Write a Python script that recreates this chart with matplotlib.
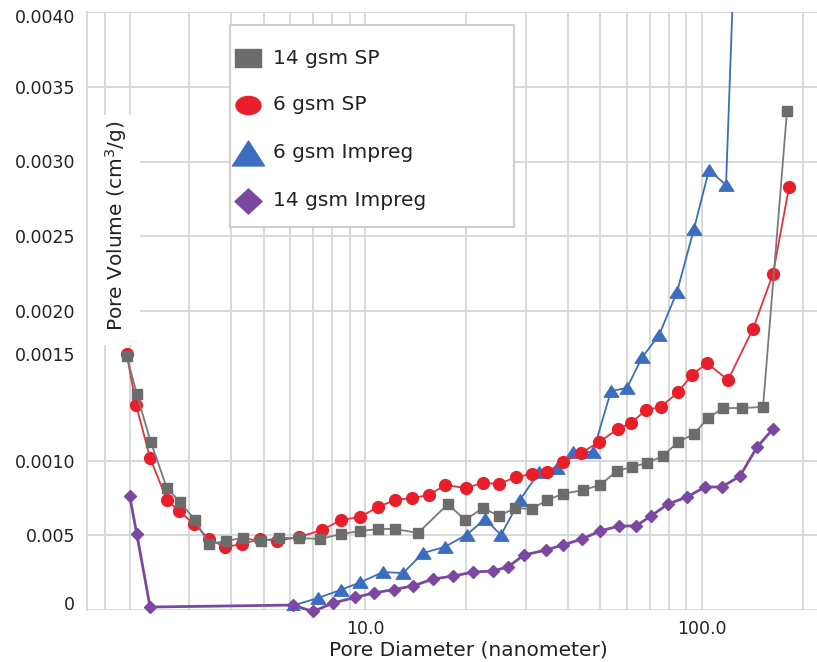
import numpy as np
import matplotlib
matplotlib.use("Agg")
import matplotlib.pyplot as plt
from matplotlib.path import Path
from matplotlib.patches import Rectangle

# pore diameter (nm) and pore volume (cm3/g)
gray_d = [1.96, 2.10, 2.31, 2.58, 2.82, 3.13, 3.44, 3.87, 4.34, 4.91, 5.55, 6.37, 7.35,
          8.49, 9.66, 10.93, 12.28, 14.37, 17.64, 19.82, 22.41, 25.0, 27.89, 31.33, 34.71,
          38.74, 44.41, 49.89, 56.03, 62.09, 68.8, 76.76, 85.04, 94.86, 104.4, 115.7,
          131.7, 152.1, 179.2]
gray_v = [0.00170, 0.001445, 0.001124, 0.000816, 0.000722, 0.000602, 0.000441, 0.000462,
          0.000482, 0.000462, 0.000482, 0.000482, 0.000475, 0.000508, 0.000528, 0.000542,
          0.000542, 0.000515, 0.000709, 0.000602, 0.000682, 0.000629, 0.000682, 0.000676,
          0.000736, 0.000776, 0.000803, 0.000836, 0.000930, 0.000957, 0.000983, 0.001030,
          0.001124, 0.001177, 0.001284, 0.001351, 0.001351, 0.001358, 0.003338]

red_d = [1.96, 2.09, 2.30, 2.58, 2.80, 3.11, 3.44, 3.84, 4.31, 4.88, 5.48, 6.37, 7.45,
         8.49, 9.66, 10.93, 12.28, 13.79, 15.49, 17.29, 19.95, 22.41, 25.0, 28.08, 31.33,
         34.71, 38.74, 43.81, 49.55, 56.42, 61.66, 68.33, 75.72, 85.04, 93.58, 103.7,
         119.7, 142.0, 162.8, 181.7]
red_v = [0.001712, 0.001371, 0.001017, 0.000736, 0.000662, 0.000575, 0.000475, 0.000421,
         0.000441, 0.000475, 0.000462, 0.000488, 0.000535, 0.000602, 0.000622, 0.000689,
         0.000736, 0.000749, 0.000769, 0.000836, 0.000816, 0.000850, 0.000843, 0.000890,
         0.000910, 0.000923, 0.000990, 0.001050, 0.001124, 0.001211, 0.001251, 0.001338,
         0.001358, 0.001458, 0.001572, 0.001652, 0.001538, 0.001880, 0.002248, 0.002829]

blue_d = [6.11, 7.25, 8.46, 9.66, 11.31, 12.97, 14.87, 17.23, 20.09, 22.72, 25.34, 28.86,
          32.87, 37.18, 41.48, 47.56, 53.78, 59.98, 66.48, 74.69, 84.45, 94.86, 105.1,
          118.1, 131.7]
blue_v = [0.00003, 0.00008, 0.000134, 0.000184, 0.000254, 0.000247, 0.000381, 0.000421,
          0.000505, 0.000609, 0.000502, 0.000736, 0.000923, 0.000950, 0.001057, 0.001057,
          0.001465, 0.001485, 0.001689, 0.001839, 0.002127, 0.002549, 0.002943, 0.002843,
          0.0058]

purple_d = [2.0, 2.10, 2.30, 6.11, 7.01, 8.04, 9.34, 10.63, 12.19, 13.89, 15.92, 18.25,
            21.0, 24.01, 26.58, 29.66, 34.48, 38.74, 44.11, 49.89, 56.81, 63.81, 70.71,
            79.41, 90.44, 102.3, 114.9, 129.9, 146.0, 162.8]
purple_v = [0.000763, 0.000508, 0.00002, 0.000033, -0.00001, 0.000047, 0.000084, 0.000114,
            0.000137, 0.000161, 0.000207, 0.000227, 0.000254, 0.000261, 0.000288, 0.000368,
            0.000401, 0.000435, 0.000475, 0.000528, 0.000562, 0.000562, 0.000629, 0.000709,
            0.000756, 0.000823, 0.000823, 0.000896, 0.001090, 0.001211]

labels = ["14 gsm SP", "6 gsm SP", "6 gsm Impreg", "14 gsm Impreg"]

ytick_pos = [0.00005, 0.0005, 0.001, 0.00171, 0.002, 0.0025, 0.003, 0.0035, 0.00397]
ytick_labels = ["0", "0.005", "0.0010", "0.0015", "0.0020", "0.0025", "0.0030", "0.0035", "0.0040"]
ygrid = [0, 0.0005, 0.001, 0.002, 0.0025, 0.003, 0.0035, 0.004]
xgrid = [1.69, 2, 3, 4, 5, 6, 7, 8, 9, 10, 20, 30, 40, 50, 60, 70, 80, 90, 100, 200]

W, H = 817, 662
GRID = "#d6d6d6"


def custom_marker(verts):
    verts = list(verts) + [verts[0]]
    codes = [Path.MOVETO] + [Path.LINETO] * (len(verts) - 2) + [Path.CLOSEPOLY]
    return Path(verts, codes)


tri = custom_marker([(0, 0.78), (-1, -0.78), (1, -0.78)])
ell = Path.unit_circle().transformed(matplotlib.transforms.Affine2D().scale(1.38, 1.0))
rect = custom_marker([(-1.38, -1), (1.38, -1), (1.38, 1), (-1.38, 1)])
dia = custom_marker([(0, 1), (1.08, 0), (0, -1), (-1.08, 0)])

fig = plt.figure(figsize=(W / 100, H / 100), dpi=100)
ax = fig.add_axes([87 / W, 1 - 610 / H, 730 / W, 598 / H])
ax.set_xscale("log")
ax.set_xlim(1.494, 220)
ax.set_ylim(0, 0.004)

for s in ["top", "right", "bottom"]:
    ax.spines[s].set_visible(False)
ax.spines["left"].set_color(GRID)
ax.spines["left"].set_linewidth(1.3)

for g in ygrid:
    ax.axhline(g, color=GRID, lw=1.3, zorder=0.5)
for g in xgrid:
    ax.axvline(g, color=GRID, lw=1.3, zorder=0.5)

ax.set_xticks([10, 100])
ax.set_xticklabels(["10.0", "100.0"])
ax.xaxis.set_minor_locator(matplotlib.ticker.NullLocator())
ax.set_yticks(ytick_pos)
ax.set_yticklabels(ytick_labels)
ax.tick_params(axis="x", length=0, pad=7, labelsize=12.5, colors="#222222")
ax.tick_params(axis="y", length=0, pad=8.5, labelsize=12.5, colors="#222222")

# white box behind the y label
ax.add_patch(Rectangle(((87 - 87) / 730, (610 - 345) / 598), 53 / 730, 230 / 598,
                       transform=ax.transAxes, facecolor="white", edgecolor="none",
                       zorder=1, clip_on=False))

ax.plot(blue_d, blue_v, color="#3c6dbf", lw=1.3, marker=tri, ms=10.5,
        mec="#3c6dbf", mfc="#3c6dbf", zorder=3)
ax.plot(red_d, red_v, color="#e3323d", lw=1.3, marker="o", ms=8.5,
        mec="#e81f2b", mfc="#e81f2b", zorder=4)
ax.plot(gray_d, gray_v, color="#7a7a7a", lw=1.3, marker="s", ms=7.3,
        mec="#6c6c6c", mfc="#6c6c6c", zorder=5)
ax.plot(purple_d, purple_v, color="#7a48a0", lw=2.0, marker="D", ms=5.8,
        mec="#7a48a0", mfc="#7a48a0", zorder=6, clip_on=False)


def axfrac(px, py):
    return (px - 87) / 730, (610 - py) / 598


# legend box
x0, y0 = axfrac(230, 227)
ax.add_patch(Rectangle((x0, y0), 284 / 730, 202 / 598, transform=ax.transAxes,
                       facecolor="white", edgecolor="#cfcfcf", lw=1.5, zorder=7,
                       clip_on=False))
leg_markers = [rect, ell, tri, dia]
leg_colors = ["#6c6c6c", "#e81f2b", "#3c6dbf", "#7a48a0"]
leg_sizes = [18, 18, 23, 19.5]
leg_rows = [58, 105, 153, 201]
for lab, mk, c, sz, row in zip(labels, leg_markers, leg_colors, leg_sizes, leg_rows):
    mx, my = axfrac(248, row)
    ax.plot([mx], [my], marker=mk, ms=sz, color=c, transform=ax.transAxes,
            clip_on=False, zorder=8, ls="none")
    tx, ty = axfrac(273, row)
    ax.text(tx, ty, lab, transform=ax.transAxes, fontsize=14.5, color="#222222",
            va="center", ha="left", zorder=8)

fig.text(116 / W, 1 - 226 / H, "Pore Volume (cm$^3$/g)", rotation=90, fontsize=14.5,
         ha="center", va="center", color="#222222", zorder=9)
fig.text(468 / W, 1 - 655 / H, "Pore Diameter (nanometer)", fontsize=14.5,
         ha="center", va="baseline", color="#222222")

fig.savefig("out.png", dpi=100, facecolor="white")
